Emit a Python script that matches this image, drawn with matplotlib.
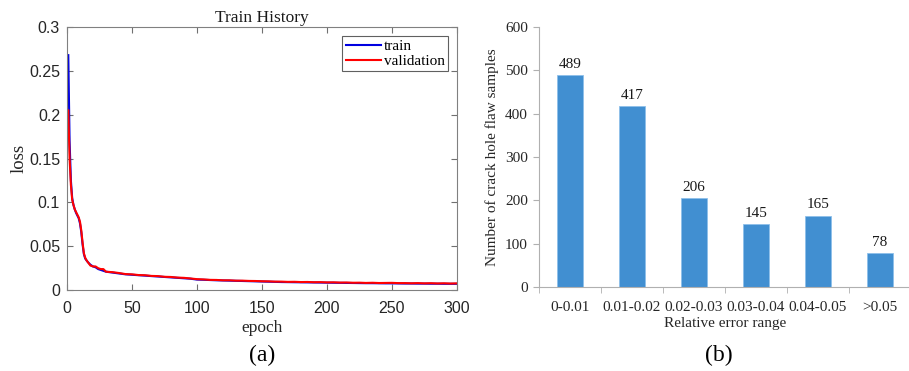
import numpy as np
import matplotlib.pyplot as plt

# ---- panel (a): training history ----
ep_a = [1, 2, 3, 4, 5, 6, 7, 8, 9, 10, 11, 12, 13, 14, 15, 16, 18, 20, 22, 24, 26, 28, 30,
        35, 40, 45, 50, 55, 60, 65, 70, 75, 80, 85, 90, 95, 100, 105, 110, 115, 120, 125,
        130, 135, 140, 145, 150, 155, 160, 165, 170, 175, 180, 185, 190, 195, 200, 205,
        210, 215, 220, 225, 230, 235, 240, 245, 250, 255, 260, 265, 270, 275, 280, 285,
        290, 295, 300]
train = [0.268, 0.170, 0.125, 0.105, 0.097, 0.092, 0.088, 0.085, 0.082, 0.076, 0.066, 0.052,
         0.041, 0.036, 0.034, 0.032, 0.029, 0.027, 0.026, 0.024, 0.023, 0.022, 0.021,
         0.0200, 0.0190, 0.0180, 0.0175, 0.0170, 0.0165, 0.0160, 0.0155, 0.0150, 0.0145,
         0.0140, 0.0135, 0.0130, 0.0120, 0.0118, 0.0115, 0.0112, 0.0110, 0.0108, 0.0106,
         0.0104, 0.0102, 0.0100, 0.0098, 0.0096, 0.0094, 0.0092, 0.0091, 0.0090, 0.0089,
         0.0088, 0.0087, 0.0086, 0.0085, 0.0084, 0.0083, 0.0082, 0.0081, 0.0080, 0.0079,
         0.0079, 0.0078, 0.0077, 0.0077, 0.0076, 0.0075, 0.0075, 0.0074, 0.0074, 0.0073,
         0.0073, 0.0072, 0.0072, 0.0072]
val = [0.205, 0.150, 0.120, 0.103, 0.097, 0.092, 0.089, 0.086, 0.083, 0.078, 0.068, 0.054,
       0.042, 0.037, 0.034, 0.032, 0.028, 0.027, 0.027, 0.025, 0.024, 0.024, 0.021,
       0.0205, 0.0195, 0.0183, 0.0180, 0.0172, 0.0170, 0.0162, 0.0160, 0.0152, 0.0150,
       0.0143, 0.0140, 0.0133, 0.0125, 0.0122, 0.0117, 0.0116, 0.0112, 0.0112, 0.0108,
       0.0108, 0.0105, 0.0104, 0.0101, 0.0100, 0.0097, 0.0097, 0.0094, 0.0095, 0.0092,
       0.0093, 0.0090, 0.0091, 0.0088, 0.0089, 0.0086, 0.0087, 0.0084, 0.0085, 0.0082,
       0.0084, 0.0081, 0.0082, 0.0083, 0.0080, 0.0080, 0.0078, 0.0080, 0.0077, 0.0079,
       0.0076, 0.0078, 0.0075, 0.0077]

# ---- panel (b): error distribution ----
ranges = ['0-0.01', '0.01-0.02', '0.02-0.03', '0.03-0.04', '0.04-0.05', '>0.05']
counts = [489, 417, 206, 145, 165, 78]

serif = 'Liberation Serif'
sans = 'Liberation Sans'

fig = plt.figure(figsize=(9.09, 3.71), dpi=100)

ax1 = fig.add_axes([0.0737, 0.218, 0.429, 0.709])
ax1.plot(ep_a, train, color='#0000e0', lw=1.5, label='train')
ax1.plot(ep_a, val, color='#ff0000', lw=1.5, label='validation')
ax1.set_xlim(0, 300)
ax1.set_ylim(0, 0.3)
ax1.set_xticks(np.arange(0, 301, 50))
ax1.set_yticks(np.arange(0, 0.31, 0.05))
ax1.set_yticklabels(['0', '0.05', '0.1', '0.15', '0.2', '0.25', '0.3'])
ax1.tick_params(direction='in', top=True, right=True, length=4, color='#707070',
                labelsize=11.5, labelcolor='#262626')
ax1.tick_params(axis='x', pad=8)
ax1.tick_params(axis='y', pad=5)
for lab in ax1.get_xticklabels() + ax1.get_yticklabels():
    lab.set_family(sans)
for s in ax1.spines.values():
    s.set_color('#808080')
    s.set_linewidth(0.8)
ax1.set_title('Train History', family=serif, fontsize=12.5, pad=4, color='#1a1a1a')
ax1.set_xlabel('epoch', family=serif, fontsize=12.5, labelpad=3, color='#262626')
ax1.set_ylabel('loss', family=serif, fontsize=13.5, labelpad=1, color='#262626')
leg = ax1.legend(loc='upper right', prop={'family': serif, 'size': 11}, fancybox=False,
                 framealpha=1, edgecolor='#606060', handlelength=2.3, handletextpad=0.2,
                 borderpad=0.2, labelspacing=0.1, borderaxespad=0.6)
leg.get_frame().set_linewidth(0.8)

ax2 = fig.add_axes([0.593, 0.226, 0.409, 0.701])
x = np.arange(len(ranges))
ax2.bar(x, counts, width=0.41, color='#418fd1', edgecolor='#8ec0ea', linewidth=0.6)
for xi, c in zip(x, counts):
    ax2.text(xi, c + 10, str(c), ha='center', va='bottom', family=serif, fontsize=11,
             color='#1a1a1a')
ax2.set_xlim(-0.5, 5.5)
ax2.set_ylim(0, 600)
ax2.set_yticks(np.arange(0, 601, 100))
ax2.set_xticks(x)
ax2.set_xticklabels(ranges)
ax2.set_xticks(np.arange(-0.5, 5.6, 1), minor=True)
ax2.tick_params(axis='x', which='major', length=0, pad=10)
ax2.tick_params(axis='x', which='minor', length=4, direction='out', color='#b0b0b0')
ax2.tick_params(axis='y', length=4, direction='out', color='#b0b0b0', pad=4)
ax2.tick_params(labelsize=11, labelcolor='#262626')
for lab in ax2.get_xticklabels() + ax2.get_yticklabels():
    lab.set_family(serif)
for side in ['top', 'right']:
    ax2.spines[side].set_visible(False)
for side in ['left', 'bottom']:
    ax2.spines[side].set_color('#b0b0b0')
    ax2.spines[side].set_linewidth(0.8)
ax2.set_xlabel('Relative error range', family=serif, fontsize=11, labelpad=2, color='#262626')
ax2.set_ylabel('Number of crack hole flaw samples', family=serif, fontsize=11, labelpad=4,
               color='#262626')

fig.text(0.288, 0.043, '(a)', family=serif, fontsize=17, ha='center', va='center')
fig.text(0.791, 0.043, '(b)', family=serif, fontsize=17, ha='center', va='center')

fig.savefig('out.png', dpi=100)
